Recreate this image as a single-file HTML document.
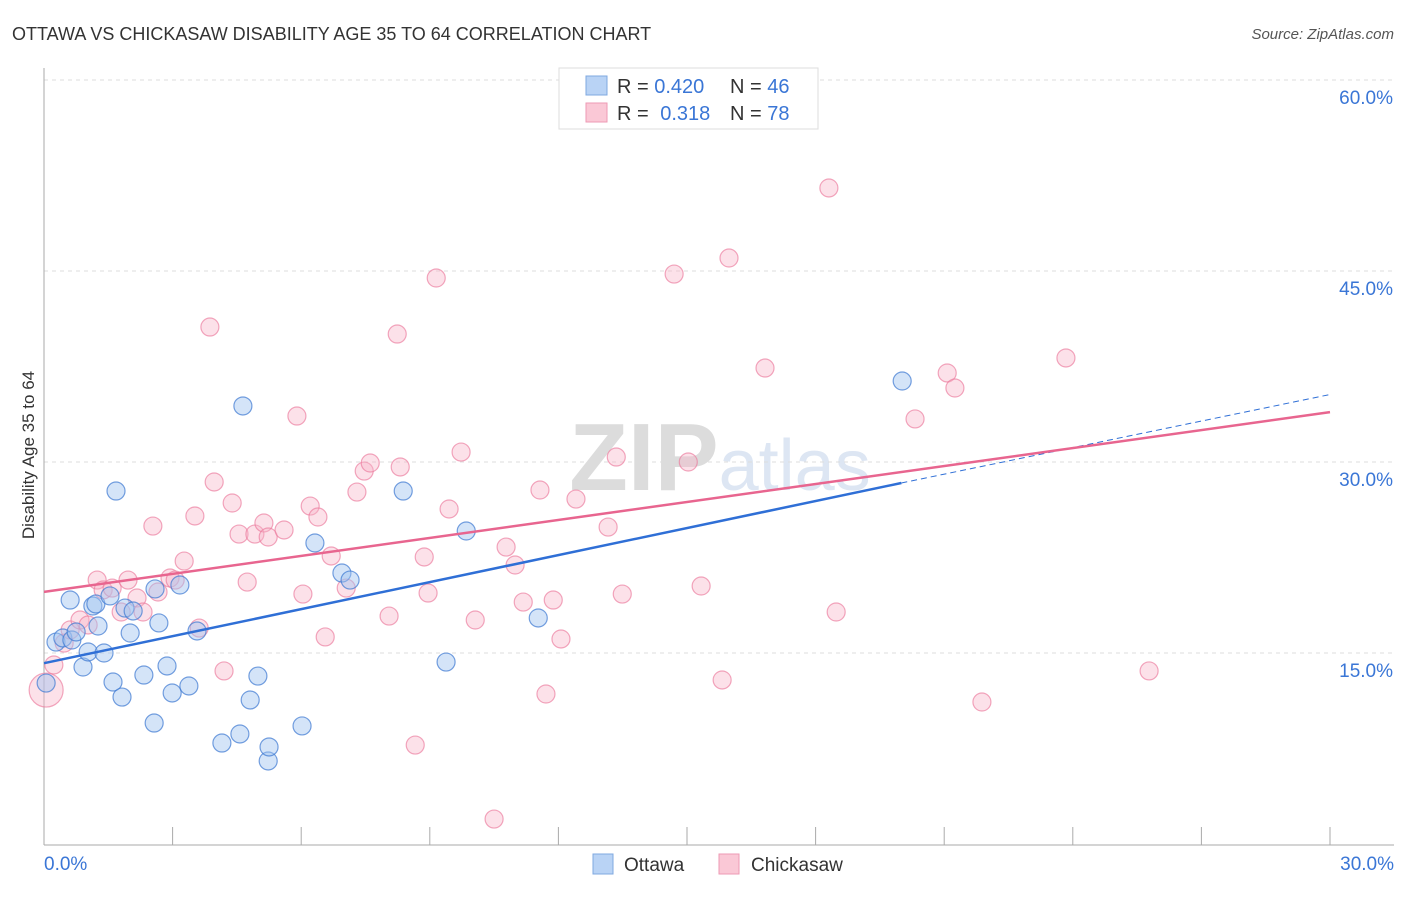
<!DOCTYPE html>
<html><head><meta charset="utf-8"><style>
body{margin:0;background:#fff;font-family:"Liberation Sans",sans-serif;}
svg text{font-family:"Liberation Sans",sans-serif;}
</style></head><body>
<svg id="chart" width="1406" height="892" xmlns="http://www.w3.org/2000/svg">
<text x="12" y="40" font-size="18" fill="#333">OTTAWA VS CHICKASAW DISABILITY AGE 35 TO 64 CORRELATION CHART</text>
<text x="1394" y="39" font-size="15" fill="#555" font-style="italic" text-anchor="end">Source: ZipAtlas.com</text>
<text x="720" y="490" font-size="96" fill="#e4e4e4" text-anchor="middle" font-family="Liberation Serif"><tspan font-weight="bold" fill="#dcdcdc">ZIP</tspan><tspan fill="#dde6f3" font-family="Liberation Sans" font-size="72">atlas</tspan></text>
<g id="grid"></g>
<g id="axes"></g>
<g id="points"></g>
<g id="trends"></g>
<text transform="translate(34,455) rotate(-90)" font-size="17" fill="#333" text-anchor="middle">Disability Age 35 to 64</text>
<g>
<rect x="559" y="68" width="259" height="61" fill="#fff" stroke="#ddd"/>
<rect x="586" y="76" width="21" height="19" fill="#b9d3f5" stroke="#7fa8e0"/>
<rect x="586" y="103" width="21" height="19" fill="#fac8d6" stroke="#ee9ab4"/>
<text x="617" y="93" font-size="20" fill="#333">R = <tspan fill="#3a76d6">0.420</tspan></text>
<text x="730" y="93" font-size="20" fill="#333">N = <tspan fill="#3a76d6">46</tspan></text>
<text x="617" y="120" font-size="20" fill="#333">R = <tspan fill="#3a76d6" dx="6">0.318</tspan></text>
<text x="730" y="120" font-size="20" fill="#333">N = <tspan fill="#3a76d6">78</tspan></text>
</g>
<g>
<rect x="593" y="854" width="20" height="20" fill="#b9d3f5" stroke="#7fa8e0"/>
<text x="624" y="871" font-size="19" fill="#333">Ottawa</text>
<rect x="719" y="854" width="20" height="20" fill="#fac8d6" stroke="#ee9ab4"/>
<text x="751" y="871" font-size="19" fill="#333">Chickasaw</text>
</g>
</svg>
<script>
const yTicks=[15,30,45,60];
const yTickLabels=["15.0%","30.0%","45.0%","60.0%"];
const xTicks=[0,3,6,9,12,15,18,21,24,27,30];
const ottawaX=[0.05,0.28,0.44,0.61,0.65,0.75,0.91,1.03,1.14,1.21,1.26,1.40,1.54,1.61,1.68,1.82,1.89,2.01,2.08,2.33,2.57,2.59,2.68,2.87,2.99,3.17,3.38,3.57,4.15,4.57,4.64,4.81,4.99,5.23,5.25,6.02,6.32,6.95,7.14,8.38,9.38,9.85,11.53,20.02];
const ottawaY=[12.64,15.86,16.18,19.16,16.02,16.65,13.90,15.08,18.69,18.85,17.12,15.0,19.48,12.72,27.72,11.54,18.53,16.57,18.30,13.27,9.50,20.03,17.36,13.98,11.86,20.34,12.41,16.73,7.93,8.64,34.40,11.31,13.19,6.52,7.62,9.27,23.64,21.28,20.73,27.72,14.29,24.58,17.75,36.36];
const chickX=[0.05,0.23,0.47,0.61,0.84,1.03,1.24,1.38,1.59,1.80,1.96,2.17,2.31,2.54,2.66,2.94,3.06,3.27,3.52,3.62,3.87,3.97,4.20,4.39,4.55,4.74,4.92,5.13,5.23,5.60,5.90,6.04,6.21,6.39,6.56,6.70,7.05,7.30,7.47,7.61,8.05,8.24,8.31,8.66,8.87,8.96,9.15,9.45,9.73,10.06,10.50,10.78,10.99,11.18,11.57,11.71,11.88,12.06,12.41,13.16,13.35,13.49,14.70,15.03,15.33,15.82,15.98,16.82,18.31,18.48,20.32,21.07,21.25,21.88,23.84,25.78];
const chickY=[12.09,14.06,15.78,16.81,17.59,17.20,20.73,19.95,20.10,18.22,20.73,19.32,18.22,24.97,19.79,20.89,20.73,22.22,25.76,16.96,40.60,28.43,13.59,26.78,24.34,20.57,24.34,25.21,24.11,24.66,33.61,19.63,26.54,25.68,16.26,22.62,20.10,27.64,29.29,29.92,17.90,40.05,29.61,7.77,22.54,19.71,44.45,26.31,30.78,17.59,1.96,23.32,21.91,19.00,27.80,11.78,19.16,16.10,27.09,24.89,30.39,19.63,44.76,30.00,20.26,12.88,46.02,37.38,51.52,18.22,33.38,36.99,35.81,11.15,38.17,13.59];
const ottawaTrend=[14.2,28.35,35.3]; // at x=0, 20, 30
const chickTrend=[19.8,33.92]; // at x=0, 30
const X=v=>44+v/30*1286, Y=v=>844-v/15*191;
const NS="http://www.w3.org/2000/svg";
function mk(tag,attrs,parent){const e=document.createElementNS(NS,tag);for(const k in attrs)e.setAttribute(k,attrs[k]);document.getElementById(parent).appendChild(e);return e;}
yTicks.forEach((t,i)=>{
 const l=mk('line',{x1:44,x2:1394,y1:Y(t),y2:Y(t),stroke:'#ddd','stroke-dasharray':'4,4'},'grid');
 
 
 const tx=mk('text',{x:1393,y:Y(t)+24,'font-size':19,fill:'#3a76d6','text-anchor':'end'},'axes');
 tx.textContent=yTickLabels[i];
 
 
});
const ya=mk('line',{x1:44,x2:44,y1:68,y2:845,stroke:'#aaa'},'axes');


const xa=mk('line',{x1:44,x2:1394,y1:845,y2:845,stroke:'#aaa'},'axes');


xTicks.forEach(t=>{
 const l=mk('line',{x1:X(t),x2:X(t),y1:827,y2:845,stroke:'#aaa'},'axes');
 
 
});
[["0.0%",44,"start"],["30.0%",1394,"end"]].forEach(a=>{
 const tx=mk('text',{x:a[1],y:870,'font-size':19,fill:'#3a76d6','text-anchor':a[2]},'axes');
 tx.textContent=a[0];
 
 
});
chickX.forEach((x,i)=>{
 const c=mk('circle',{cx:X(x),cy:Y(chickY[i]),r:i===0?17:9,fill:'rgba(248,180,200,0.4)',stroke:'rgba(235,120,155,0.65)','stroke-width':1.2},'points');
 
 
});
ottawaX.forEach((x,i)=>{
 const c=mk('circle',{cx:X(x),cy:Y(ottawaY[i]),r:9,fill:'rgba(160,195,240,0.45)',stroke:'rgba(60,120,210,0.7)','stroke-width':1.2},'points');
 
 
});
const b1=mk('line',{x1:X(0),y1:Y(ottawaTrend[0]),x2:X(20),y2:Y(ottawaTrend[1]),stroke:'#2f6fd6','stroke-width':2.5},'trends');


const b2=mk('line',{x1:X(20),y1:Y(ottawaTrend[1]),x2:X(30),y2:Y(ottawaTrend[2]),stroke:'#2f6fd6','stroke-width':1,'stroke-dasharray':'6,4'},'trends');


const p1=mk('line',{x1:X(0),y1:Y(chickTrend[0]),x2:X(30),y2:Y(chickTrend[1]),stroke:'#e8658f','stroke-width':2.5},'trends');


</script>
</body></html>
